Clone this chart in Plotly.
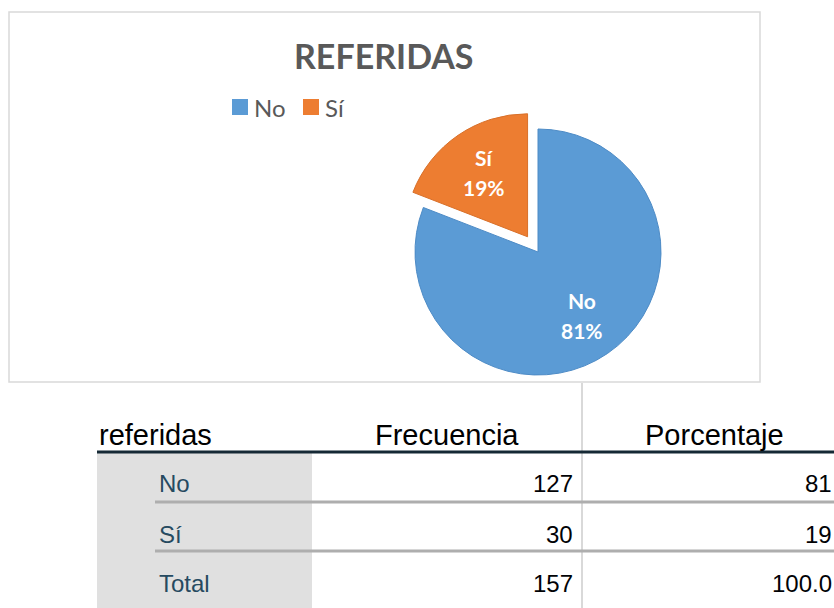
import math
import plotly.graph_objects as go

# ---- data ----
labels = ["No", "Sí"]
frecuencia = [127, 30]
porcentaje_txt = ["81", "19"]
total_label = "Total"
total_frec = 157
total_pct = "100.0"
colors = ["#5B9BD5", "#ED7D31"]
edge_colors = ["#4d8bc6", "#d8702a"]
chart_title = "REFERIDAS"
table_headers = ["referidas", "Frecuencia", "Porcentaje"]

W, H = 834, 608
def px(x):
    return x / W
def py(y):
    return 1 - y / H

fig = go.Figure()

# pie: center (538,252), r=123, pull 0.15
pull = [0, 0.15]
r = 123
half = r * (1 + max(pull))
cx, cy = 538, 252
fig.add_trace(go.Pie(
    labels=labels, values=frecuencia,
    marker=dict(colors=colors, line=dict(color=edge_colors, width=1)),
    pull=pull, sort=False, direction="clockwise", rotation=0,
    textinfo="none",
    showlegend=False, hoverinfo="label+value+percent",
    domain=dict(x=[px(cx - half), px(cx + half)], y=[py(cy + half), py(cy - half)]),
))

shapes = []
annotations = []

# slice labels placed along each slice's bisector (computed from the data)
tot = sum(frecuencia)
cum = 0
lab_font = dict(color="white", size=21, family="Lato", weight="bold")
for i, (lab, v) in enumerate(zip(labels, frecuencia)):
    theta = math.radians((cum + v / 2) / tot * 360)
    cum += v
    d = (pull[i] + 0.63) * r
    lx = cx + d * math.sin(theta)
    ly = cy - d * math.cos(theta)
    pct = f"{round(v / tot * 100)}%"
    annotations.append(dict(text=f"<b>{lab}</b>", x=px(lx), y=py(ly - 15), xref="paper", yref="paper",
                            showarrow=False, xanchor="center", yanchor="middle", font=lab_font))
    annotations.append(dict(text=f"<b>{pct}</b>", x=px(lx), y=py(ly + 15), xref="paper", yref="paper",
                            showarrow=False, xanchor="center", yanchor="middle", font=lab_font))

# chart frame
shapes.append(dict(type="rect", xref="paper", yref="paper",
                   x0=px(9), x1=px(760), y0=py(382), y1=py(12),
                   line=dict(color="#d9d9d9", width=1.5), layer="below"))

# title
annotations.append(dict(text="<b>" + chart_title + "</b>", x=px(384), y=py(56),
                        xref="paper", yref="paper", showarrow=False,
                        xanchor="center", yanchor="middle",
                        font=dict(family="Lato", size=34, color="#595959")))

# manual legend
leg_x = [232, 303]
for i, lab in enumerate(labels):
    x0 = leg_x[i]
    shapes.append(dict(type="rect", xref="paper", yref="paper",
                       x0=px(x0), x1=px(x0 + 16), y0=py(115), y1=py(99),
                       fillcolor=colors[i], line=dict(width=0)))
    annotations.append(dict(text=lab, x=px(x0 + 20), y=py(107), xref="paper", yref="paper",
                            showarrow=False, xanchor="left", yanchor="middle",
                            font=dict(family="Lato", size=24, color="#595959")))

# ---- table ----
shapes.append(dict(type="line", xref="paper", yref="paper",
                   x0=px(582), x1=px(582), y0=py(608), y1=py(383),
                   line=dict(color="#d9d9d9", width=2)))
shapes.append(dict(type="rect", xref="paper", yref="paper",
                   x0=px(97), x1=px(312), y0=py(608), y1=py(453),
                   fillcolor="#e0e0e0", line=dict(width=0), layer="below"))
shapes.append(dict(type="line", xref="paper", yref="paper",
                   x0=px(97), x1=px(834), y0=py(452), y1=py(452),
                   line=dict(color="#152935", width=3)))
for yy in [502, 551]:
    shapes.append(dict(type="line", xref="paper", yref="paper",
                       x0=px(155), x1=px(834), y0=py(yy), y1=py(yy),
                       line=dict(color="#aeaeae", width=3)))

hfont = dict(family="Liberation Sans, Arial", size=29, color="#000000")
annotations.append(dict(text=table_headers[0], x=px(97), y=py(435), xref="paper", yref="paper",
                        showarrow=False, xanchor="left", yanchor="middle", font=hfont))
annotations.append(dict(text=table_headers[1], x=px(447), y=py(435), xref="paper", yref="paper",
                        showarrow=False, xanchor="center", yanchor="middle", font=hfont))
annotations.append(dict(text=table_headers[2], x=px(714), y=py(435), xref="paper", yref="paper",
                        showarrow=False, xanchor="center", yanchor="middle", font=hfont))

row_labels = labels + [total_label]
row_frec = frecuencia + [total_frec]
row_pct = porcentaje_txt + [total_pct]
row_y = [483, 534, 583]
lfont = dict(family="Liberation Sans, Arial", size=24, color="#264a60")
vfont = dict(family="Liberation Sans, Arial", size=24, color="#010205")
for lab, f, p, yy in zip(row_labels, row_frec, row_pct, row_y):
    annotations.append(dict(text=lab, x=px(157), y=py(yy), xref="paper", yref="paper",
                            showarrow=False, xanchor="left", yanchor="middle", font=lfont))
    annotations.append(dict(text=str(f), x=px(575), y=py(yy), xref="paper", yref="paper",
                            showarrow=False, xanchor="right", yanchor="middle", font=vfont))
    annotations.append(dict(text=p, x=px(834), y=py(yy), xref="paper", yref="paper",
                            showarrow=False, xanchor="right", yanchor="middle", font=vfont))

fig.update_layout(
    width=W, height=H, margin=dict(l=0, r=0, t=0, b=0),
    paper_bgcolor="white", plot_bgcolor="white",
    shapes=shapes, annotations=annotations,
)
fig.write_html("out.html", config={"displayModeBar": False},
               post_script="document.body.style.margin='0';document.body.style.overflow='hidden';")
